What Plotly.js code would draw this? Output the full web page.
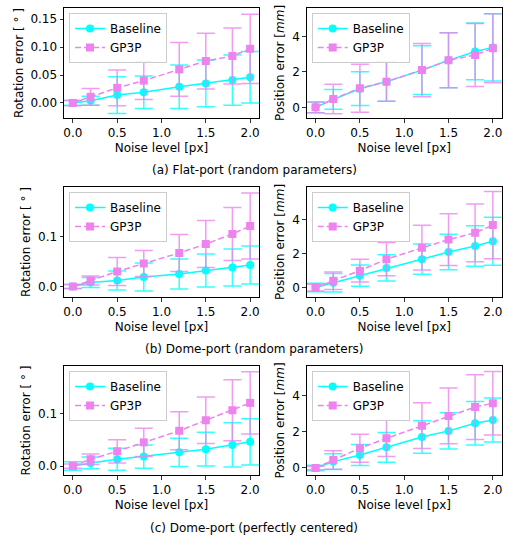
<!DOCTYPE html>
<html><head><meta charset="utf-8">
<script src="https://cdn.plot.ly/plotly-3.0.1.min.js"></script>
<style>html,body{margin:0;padding:0;background:#fff}</style>
</head><body>
<div id="chart" style="width:508px;height:536px"></div>
<script>
const noise = [0, 0.2, 0.5, 0.8, 1.2, 1.5, 1.8, 2.0];
const seriesNames = ['Baseline', 'GP3P'];
const captions = ['(a) Flat-port (random parameters)', '(b) Dome-port (random parameters)', '(c) Dome-port (perfectly centered)'];

// (a) Flat-port rotation
const rotA_base    = [0, 0.004, 0.014, 0.019, 0.029, 0.035, 0.041, 0.046];
const rotA_base_sd = [0.004, 0.008, 0.033, 0.029, 0.039, 0.042, 0.045, 0.046];
const rotA_gp      = [0, 0.011, 0.027, 0.040, 0.060, 0.075, 0.084, 0.097];
const rotA_gp_sd   = [0.005, 0.015, 0.032, 0.034, 0.048, 0.050, 0.050, 0.062];
// (a) Flat-port position
const posA_base    = [0, 0.45, 1.05, 1.45, 2.10, 2.65, 3.15, 3.38];
const posA_base_sd = [0.30, 0.55, 0.95, 1.10, 1.37, 1.55, 1.60, 1.90];
const posA_gp      = [0, 0.47, 1.08, 1.45, 2.10, 2.65, 2.95, 3.33];
const posA_gp_sd   = [0.30, 0.83, 1.35, 1.10, 1.50, 1.55, 1.78, 1.95];
// (b) Dome-port random rotation
const rotB_base    = [0, 0.008, 0.012, 0.019, 0.025, 0.032, 0.038, 0.043];
const rotB_base_sd = [0.004, 0.010, 0.019, 0.028, 0.030, 0.033, 0.037, 0.038];
const rotB_gp      = [0, 0.012, 0.030, 0.046, 0.067, 0.085, 0.105, 0.121];
const rotB_gp_sd   = [0.004, 0.009, 0.028, 0.026, 0.037, 0.047, 0.053, 0.066];
// (b) Dome-port random position
const posB_base    = [0, 0.28, 0.70, 1.16, 1.68, 2.10, 2.46, 2.74];
const posB_base_sd = [0.25, 0.55, 0.63, 0.78, 0.90, 1.05, 1.20, 1.42];
const posB_gp      = [0, 0.40, 1.00, 1.68, 2.36, 2.84, 3.24, 3.70];
const posB_gp_sd   = [0.20, 0.52, 0.67, 0.98, 1.32, 1.53, 1.71, 1.99];
// (c) Dome-port centered rotation
const rotC_base    = [0, 0.006, 0.013, 0.018, 0.026, 0.032, 0.040, 0.046];
const rotC_base_sd = [0.008, 0.011, 0.021, 0.022, 0.027, 0.032, 0.042, 0.044];
const rotC_gp      = [0, 0.013, 0.028, 0.045, 0.067, 0.087, 0.106, 0.120];
const rotC_gp_sd   = [0.004, 0.010, 0.022, 0.027, 0.036, 0.044, 0.058, 0.059];
// (c) Dome-port centered position
const posC_base    = [0, 0.35, 0.72, 1.14, 1.71, 2.05, 2.47, 2.65];
const posC_base_sd = [0.15, 0.44, 0.58, 0.82, 0.90, 1.00, 1.20, 1.22];
const posC_gp      = [0, 0.44, 1.09, 1.64, 2.34, 2.88, 3.37, 3.58];
const posC_gp_sd   = [0.10, 0.51, 0.78, 1.00, 1.27, 1.54, 1.79, 1.76];

const panels = [
  {b: rotA_base, bs: rotA_base_sd, g: rotA_gp, gs: rotA_gp_sd, col: 0, row: 0, rng: [-0.027, 0.170], dt: 0.05, fmt: '.2f', title: 'Rotation error [ ° ]'},
  {b: posA_base, bs: posA_base_sd, g: posA_gp, gs: posA_gp_sd, col: 1, row: 0, rng: [-0.60, 5.60], dt: 2, fmt: 'd', title: 'Position error [<i>mm</i>]'},
  {b: rotB_base, bs: rotB_base_sd, g: rotB_gp, gs: rotB_gp_sd, col: 0, row: 1, rng: [-0.021, 0.199], dt: 0.1, fmt: '.1f', title: 'Rotation error [ ° ]'},
  {b: posB_base, bs: posB_base_sd, g: posB_gp, gs: posB_gp_sd, col: 1, row: 1, rng: [-0.56, 5.95], dt: 2, fmt: 'd', title: 'Position error [<i>mm</i>]'},
  {b: rotC_base, bs: rotC_base_sd, g: rotC_gp, gs: rotC_gp_sd, col: 0, row: 2, rng: [-0.017, 0.190], dt: 0.1, fmt: '.1f', title: 'Rotation error [ ° ]'},
  {b: posC_base, bs: posC_base_sd, g: posC_gp, gs: posC_gp_sd, col: 1, row: 2, rng: [-0.39, 5.64], dt: 2, fmt: 'd', title: 'Position error [<i>mm</i>]'}
];

const W = 508, H = 536;
const colPx = [[64, 259], [306.7, 501.7]];
const rowPx = [[8, 118], [187, 297], [366, 475]];
const capPx = [170, 349, 528];

const CYAN = '#00ffff', VIOLET = '#ee82ee';
const data = [];
const layout = {
  width: W, height: H, margin: {l: 0, r: 0, t: 0, b: 0},
  paper_bgcolor: '#fff', plot_bgcolor: '#fff',
  font: {family: 'DejaVu Sans', size: 12, color: '#000'},
  showlegend: true, annotations: []
};

panels.forEach((p, i) => {
  const n = i + 1;
  const xa = 'xaxis' + (n === 1 ? '' : n), ya = 'yaxis' + (n === 1 ? '' : n);
  const xr = 'x' + (n === 1 ? '' : n), yr = 'y' + (n === 1 ? '' : n);
  const lg = 'legend' + (n === 1 ? '' : n);
  const xd = [colPx[p.col][0] / W, colPx[p.col][1] / W];
  const yd = [1 - rowPx[p.row][1] / H, 1 - rowPx[p.row][0] / H];
  layout[xa] = {
    domain: xd, anchor: yr, range: [-0.1, 2.1], tickvals: [0, 0.5, 1, 1.5, 2],
    tickformat: '.1f', ticks: 'outside', ticklen: 3.5, tickwidth: 0.8, tickcolor: '#000',
    showline: true, mirror: true, linecolor: '#000', linewidth: 1, showgrid: false, zeroline: false,
    tickfont: {size: 12}, title: {text: 'Noise level [px]', font: {size: 12}, standoff: 4}
  };
  const ticks = [];
  for (let v = 0; v <= p.rng[1] + 1e-9; v += p.dt) ticks.push(+v.toFixed(3));
  layout[ya] = {
    domain: yd, anchor: xr, range: p.rng, tickvals: ticks, tickformat: p.fmt,
    ticks: 'outside', ticklen: 3.5, tickwidth: 0.8, tickcolor: '#000',
    showline: true, mirror: true, linecolor: '#000', linewidth: 1, showgrid: false, zeroline: false,
    tickfont: {size: 12}, title: {text: p.title, font: {size: 12}, standoff: 4}
  };
  layout[lg] = {
    x: (colPx[p.col][0] + 5) / W, y: 1 - (rowPx[p.row][0] + 5) / H, xref: 'paper', yref: 'paper',
    xanchor: 'left', yanchor: 'top', bgcolor: 'rgba(255,255,255,0.85)', bordercolor: '#cccccc',
    borderwidth: 1, font: {size: 12}, itemwidth: 30, tracegroupgap: 0
  };
  data.push({
    x: noise, y: p.b, xaxis: xr, yaxis: yr, legend: lg, name: seriesNames[0], type: 'scatter',
    mode: 'lines+markers', line: {color: CYAN, width: 1.5},
    marker: {color: CYAN, symbol: 'circle', size: 8},
    error_y: {type: 'data', array: p.bs, visible: true, color: 'rgba(0,255,255,0.8)', thickness: 1.5, width: 9}
  });
  data.push({
    x: noise, y: p.g, xaxis: xr, yaxis: yr, legend: lg, name: seriesNames[1], type: 'scatter',
    mode: 'lines+markers', line: {color: VIOLET, width: 1.5, dash: '6px,3px'},
    marker: {color: VIOLET, symbol: 'square', size: 8},
    error_y: {type: 'data', array: p.gs, visible: true, color: 'rgba(238,130,238,0.8)', thickness: 1.5, width: 9}
  });
});

captions.forEach((c, r) => {
  layout.annotations.push({
    text: c, xref: 'paper', yref: 'paper', x: 254 / W, y: 1 - capPx[r] / H,
    xanchor: 'center', yanchor: 'middle', showarrow: false, font: {size: 12}
  });
});

Plotly.newPlot('chart', data, layout, {displayModeBar: false, staticPlot: true});
</script>
</body></html>
